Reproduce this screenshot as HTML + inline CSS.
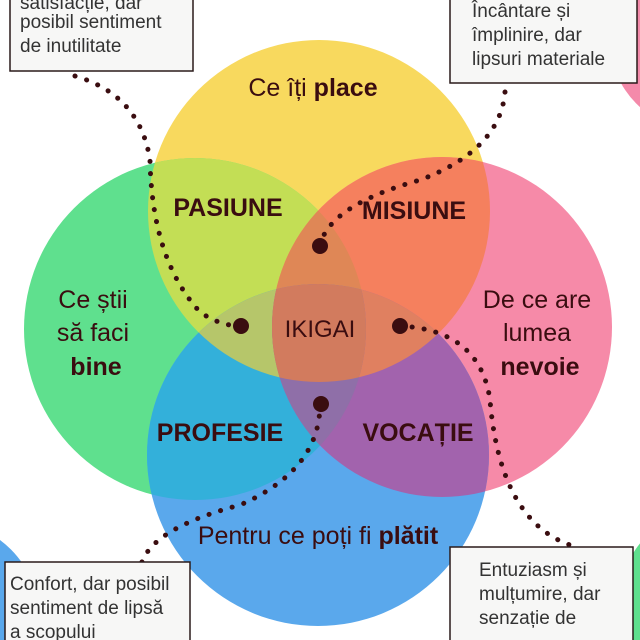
<!DOCTYPE html>
<html><head><meta charset="utf-8"><style>
html,body{margin:0;padding:0;background:#fff;width:640px;height:640px;overflow:hidden}
svg{display:block;overflow:hidden}
text{font-family:"Liberation Sans Narrow","Liberation Sans",sans-serif;fill:#3a0d10}
.b{font-weight:bold}
.bx{font-size:19px;fill:#333}
</style></head><body>
<svg width="640" height="640" viewBox="0 0 640 640">
<defs>
<clipPath id="cY"><circle cx="319" cy="211" r="171"/></clipPath>
<clipPath id="cG"><circle cx="195" cy="329" r="171"/></clipPath>
<clipPath id="cP"><circle cx="442" cy="327" r="170"/></clipPath>
<clipPath id="cB"><circle cx="318" cy="455" r="171"/></clipPath>
<clipPath id="page"><rect x="0" y="0" width="640" height="640"/></clipPath>
<circle id="Y" cx="319" cy="211" r="171"/>
<circle id="G" cx="195" cy="329" r="171"/>
<circle id="P" cx="442" cy="327" r="170"/>
<circle id="B" cx="318" cy="455" r="171"/>
</defs>
<g clip-path="url(#page)">
<circle cx="700" cy="40" r="90" fill="#f48aaa"/>
<circle cx="-60" cy="620" r="100" fill="#5aa8ec"/>
<circle cx="710" cy="600" r="90" fill="#5fe08e"/>
<use href="#Y" fill="#f8d95e"/>
<use href="#G" fill="#5fe08e"/>
<use href="#P" fill="#f68aa8"/>
<use href="#B" fill="#5aa8ec"/>
<g clip-path="url(#cY)"><use href="#G" fill="#c3de55"/></g>
<g clip-path="url(#cY)"><use href="#P" fill="#f5805e"/></g>
<g clip-path="url(#cG)"><use href="#B" fill="#33b0da"/></g>
<g clip-path="url(#cP)"><use href="#B" fill="#a263ad"/></g>
<g clip-path="url(#cY)"><g clip-path="url(#cG)"><use href="#P" fill="#df8756"/></g></g>
<g clip-path="url(#cY)"><g clip-path="url(#cG)"><use href="#B" fill="#b6c66a"/></g></g>
<g clip-path="url(#cY)"><g clip-path="url(#cP)"><use href="#B" fill="#e08060"/></g></g>
<g clip-path="url(#cG)"><g clip-path="url(#cP)"><use href="#B" fill="#8f6fa8"/></g></g>
<g clip-path="url(#cY)"><g clip-path="url(#cG)"><g clip-path="url(#cP)"><use href="#B" fill="#d27b5e"/></g></g></g>

<g fill="none" stroke="#3a0d10" stroke-width="5" stroke-linecap="round" stroke-dasharray="0.1 12">
<path d="M75 76 Q140 95 150 160 Q152 260 200 312 Q220 326 241 326"/>
<path d="M505 92 Q500 150 420 180 Q330 205 320 245"/>
<path d="M400 326 Q480 330 490 400 Q500 520 570 545"/>
<path d="M320 404 Q320 470 240 505 Q145 530 140 570"/>
</g>
<g fill="#3a0d10">
<circle cx="241" cy="326" r="8"/><circle cx="320" cy="246" r="8"/>
<circle cx="400" cy="326" r="8"/><circle cx="321" cy="404" r="8"/>
</g>

<g text-anchor="middle">
<text x="313" y="96" font-size="25">Ce îți <tspan class="b">place</tspan></text>
<text x="93" y="308" font-size="25">Ce știi</text>
<text x="93" y="341" font-size="25">să faci</text>
<text x="96" y="375" font-size="25" class="b">bine</text>
<text x="537" y="308" font-size="25">De ce are</text>
<text x="537" y="341" font-size="25">lumea</text>
<text x="540" y="375" font-size="25" class="b">nevoie</text>
<text x="318" y="544" font-size="25">Pentru ce poți fi <tspan class="b">plătit</tspan></text>
<text x="228" y="216" font-size="25" class="b">PASIUNE</text>
<text x="414" y="219" font-size="25" class="b">MISIUNE</text>
<text x="320" y="337" font-size="24">IKIGAI</text>
<text x="220" y="441" font-size="25" class="b">PROFESIE</text>
<text x="418" y="441" font-size="25" class="b">VOCAȚIE</text>
</g>

<g fill="#f7f7f6" stroke="#2a1a1a" stroke-width="1.5">
<rect x="10" y="-5" width="183" height="76"/>
<rect x="450" y="-5" width="187" height="88"/>
<rect x="5" y="562" width="185" height="84"/>
<rect x="450" y="547" width="183" height="99"/>
</g>
<text x="20" y="9" class="bx">satisfacție, dar</text>
<text x="20" y="28" class="bx">posibil sentiment</text>
<text x="20" y="52" class="bx">de inutilitate</text>
<text x="472" y="17" class="bx">Încântare și</text>
<text x="472" y="41" class="bx">împlinire, dar</text>
<text x="472" y="65" class="bx">lipsuri materiale</text>
<text x="10" y="590" class="bx">Confort, dar posibil</text>
<text x="10" y="614" class="bx">sentiment de lipsă</text>
<text x="10" y="638" class="bx">a scopului</text>
<text x="479" y="576" class="bx">Entuziasm și</text>
<text x="479" y="600" class="bx">mulțumire, dar</text>
<text x="479" y="624" class="bx">senzație de</text>
</g>
</svg>
</body></html>
